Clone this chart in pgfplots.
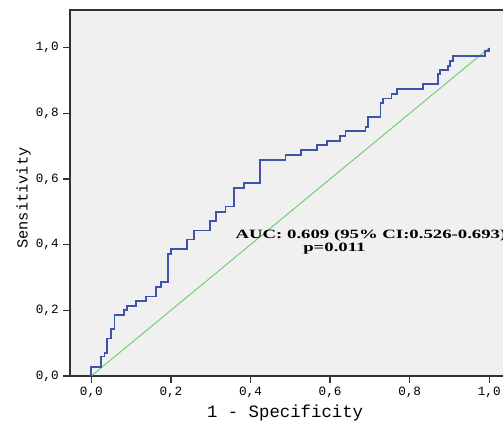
\documentclass[border=0pt]{standalone}
\usepackage{pgfplots}
\pgfplotsset{compat=1.18}
\usepackage{graphicx}
\usepackage{fontspec}
\setmainfont{Liberation Serif}
\setmonofont{Liberation Mono}

\definecolor{roc}{RGB}{62,84,170}
\definecolor{refline}{RGB}{110,205,110}
\definecolor{panel}{RGB}{240,240,240}
\definecolor{frame}{RGB}{50,50,50}

\begin{document}
\begin{tikzpicture}
\begin{axis}[
  anchor=origin, at={(0pt,0pt)},
  x=298.5pt, y=246.2pt,
  xmin=-0.0535, xmax=1.06,
  ymin=0, ymax=1.115,
  axis background/.style={fill=panel},
  axis line style={frame, line width=1.1pt},
  xtick={0,0.2,0.4,0.6,0.8,1.0},
  ytick={0,0.2,0.4,0.6,0.8,1.0},
  xtick pos=lower, ytick pos=left,
  tick align=outside,
  major tick length=5pt,
  tick style={frame, line width=1.1pt},
  ticklabel style={font=\ttfamily\fontsize{9.5}{10}\selectfont, text=black},
  /pgf/number format/assume math mode=true,
  /pgf/number format/use comma,
  /pgf/number format/fixed,
  /pgf/number format/fixed zerofill,
  /pgf/number format/precision=1,
  xlabel={1 - Specificity},
  ylabel={Sensitivity},
  xlabel style={font=\ttfamily\fontsize{13}{14}\selectfont, at={(axis cs:0.487,-0.113)}, anchor=center},
  ylabel style={font=\ttfamily\fontsize{11.5}{12}\selectfont, at={(axis cs:-0.170,0.542)}, anchor=center},
]
% reference diagonal
\addplot[refline, line width=0.7pt] coordinates {(0,0) (1,1)};

% ROC curve
\addplot[roc, line width=1.3pt, const plot] coordinates {
  (0,0) (0,0.028) (0.025,0.059) (0.033,0.071) (0.039,0.114) (0.049,0.144)
  (0.058,0.186) (0.083,0.200) (0.090,0.214) (0.112,0.228) (0.137,0.242)
  (0.162,0.270) (0.176,0.286) (0.193,0.372) (0.200,0.386) (0.240,0.416)
  (0.258,0.443) (0.298,0.473) (0.313,0.500) (0.337,0.516) (0.359,0.572)
  (0.384,0.587) (0.423,0.659) (0.488,0.674) (0.527,0.689) (0.567,0.704)
  (0.592,0.716) (0.624,0.730) (0.639,0.746) (0.689,0.759) (0.695,0.790)
  (0.727,0.832) (0.733,0.845) (0.754,0.860) (0.768,0.875) (0.833,0.889)
  (0.872,0.919) (0.876,0.933) (0.896,0.945) (0.902,0.960) (0.908,0.975)
  (0.990,0.989) (1.0,1.0)
};

\node[anchor=base west, inner sep=0pt, font=\bfseries\fontsize{9.5}{10}\selectfont]
  at (axis cs:0.362,0.419) {\scalebox{1.48}[1]{AUC: 0.609 (95\% CI:0.526-0.693)}};
\node[anchor=base west, inner sep=0pt, font=\bfseries\fontsize{9.5}{10}\selectfont]
  at (axis cs:0.532,0.378) {\scalebox{1.48}[1]{p=0.011}};
\end{axis}
\pgfresetboundingbox
\useasboundingbox (-68.5pt,-35.25pt) rectangle (308.8pt,282pt);
\end{tikzpicture}
\end{document}
